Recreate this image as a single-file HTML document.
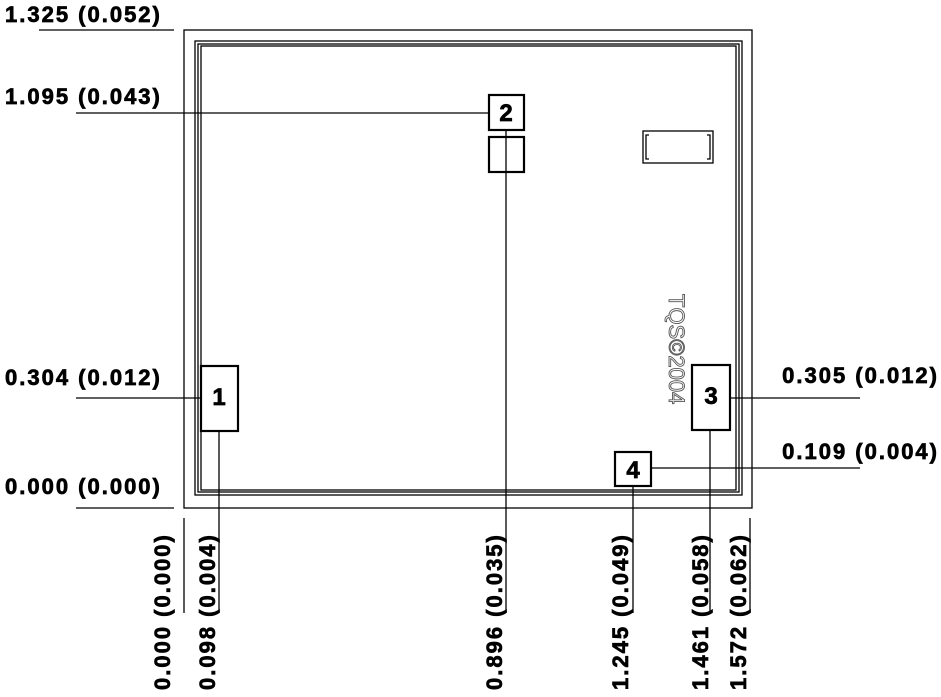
<!DOCTYPE html>
<html><head><meta charset="utf-8"><style>
html,body{margin:0;padding:0;background:#fff;}
svg{display:block}
text{font-family:"Liberation Sans",Arial,sans-serif;font-weight:bold;font-size:22px;letter-spacing:2px;fill:#000;stroke:#000;stroke-width:0.7}
.n{font-size:24px;letter-spacing:0}
</style></head><body>
<svg width="941" height="697" viewBox="0 0 941 697" xmlns="http://www.w3.org/2000/svg">
<g fill="none" stroke="#000" stroke-width="1.3">
<rect x="184" y="30" width="568" height="478"/>
<rect x="195" y="41" width="547" height="454"/>
<rect x="198" y="44" width="541" height="448"/>
<rect x="201" y="46" width="535" height="444"/>
<rect x="643" y="131" width="70" height="32"/>
<path d="M649 135h-3v24h3 M707 135h3v24h-3"/>
<line x1="39" y1="30" x2="174" y2="30"/>
<line x1="76" y1="113" x2="489" y2="113"/>
<line x1="76" y1="398" x2="201" y2="398"/>
<line x1="76" y1="508" x2="174" y2="508"/>
<line x1="730" y1="398" x2="860" y2="398"/>
<line x1="651" y1="468" x2="860" y2="468"/>
<line x1="184" y1="518" x2="184" y2="613"/>
<line x1="219" y1="431" x2="219" y2="613"/>
<line x1="506" y1="113" x2="506" y2="613"/>
<line x1="633" y1="486" x2="633" y2="613"/>
<line x1="710" y1="430" x2="710" y2="613"/>
<line x1="750" y1="518" x2="750" y2="613"/>
</g>
<g fill="#fff" stroke="#000" stroke-width="2.2">
<rect x="201" y="366" width="37" height="65"/>
<rect x="489" y="95" width="35" height="35"/>
<rect x="489" y="137" width="35" height="35"/>
<rect x="692" y="365" width="38" height="65"/>
<rect x="615" y="452" width="36" height="34"/>
</g>
<line x1="506" y1="137" x2="506" y2="172" stroke="#000" stroke-width="1.3"/>
<text class="n" x="219" y="405" text-anchor="middle">1</text>
<text class="n" x="506" y="121" text-anchor="middle">2</text>
<text class="n" x="711" y="404" text-anchor="middle">3</text>
<text class="n" x="633" y="478" text-anchor="middle">4</text>
<text x="5" y="22">1.325 (0.052)</text>
<text x="5" y="104">1.095 (0.043)</text>
<text x="5" y="385">0.304 (0.012)</text>
<text x="5" y="494">0.000 (0.000)</text>
<text x="939" y="383" text-anchor="end">0.305 (0.012)</text>
<text x="939" y="459" text-anchor="end">0.109 (0.004)</text>
<text transform="translate(170,690) rotate(-90)">0.000 (0.000)</text>
<text transform="translate(215,690) rotate(-90)">0.098 (0.004)</text>
<text transform="translate(502,690) rotate(-90)">0.896 (0.035)</text>
<text transform="translate(628,690) rotate(-90)">1.245 (0.049)</text>
<text transform="translate(708,690) rotate(-90)">1.461 (0.058)</text>
<text transform="translate(746,690) rotate(-90)">1.572 (0.062)</text>
<text transform="translate(669,294) rotate(90)" style="font-weight:normal;font-size:22px;letter-spacing:0;fill:#fff;stroke:#555;stroke-width:0.9">TQS©2004</text>
</svg>
</body></html>
